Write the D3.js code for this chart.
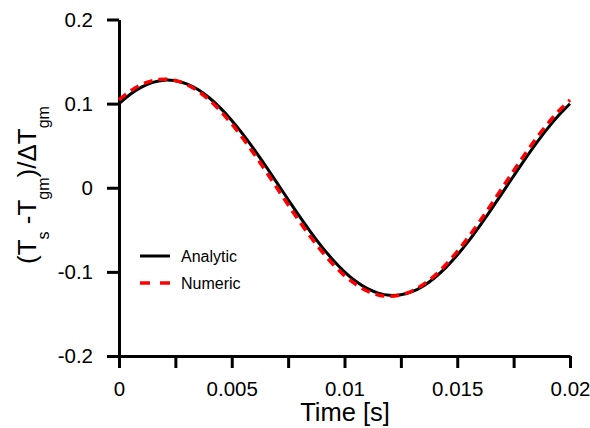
<!DOCTYPE html>
<html>
<head>
<meta charset="utf-8">
<script src="https://cdn.jsdelivr.net/npm/d3@7"></script>
<style>
  body { margin: 0; background: #fff; }
  text { font-family: "Liberation Sans", Arial, sans-serif; fill: #000; }
</style>
</head>
<body>
<div id="chart"></div>
<script>
// time samples [s]
const times = [
  0, 0.0005, 0.001, 0.0015, 0.002, 0.0025, 0.003, 0.0035, 0.004, 0.0045,
  0.005, 0.0055, 0.006, 0.0065, 0.007, 0.0075, 0.008, 0.0085, 0.009, 0.0095,
  0.01, 0.0105, 0.011, 0.0115, 0.012, 0.0125, 0.013, 0.0135, 0.014, 0.0145,
  0.015, 0.0155, 0.016, 0.0165, 0.017, 0.0175, 0.018, 0.0185, 0.019, 0.0195, 0.02
];

const analytic = [
  0.0999, 0.1112, 0.1197, 0.1253, 0.1279, 0.1272, 0.1235, 0.1167, 0.1070, 0.0947,
  0.0800, 0.0634, 0.0452, 0.0260, 0.0060, -0.0140, -0.0338, -0.0527, -0.0703, -0.0861,
  -0.0999, -0.1112, -0.1197, -0.1253, -0.1279, -0.1272, -0.1235, -0.1167, -0.1070, -0.0947,
  -0.0800, -0.0634, -0.0452, -0.0260, -0.0060, 0.0140, 0.0338, 0.0527, 0.0703, 0.0861, 0.0999
];

const numeric = [
  0.1044, 0.1149, 0.1227, 0.1274, 0.1290, 0.1274, 0.1227, 0.1149, 0.1044, 0.0912,
  0.0758, 0.0586, 0.0399, 0.0202, 0.0000, -0.0202, -0.0399, -0.0586, -0.0758, -0.0912,
  -0.1044, -0.1149, -0.1227, -0.1274, -0.1290, -0.1274, -0.1227, -0.1149, -0.1044, -0.0912,
  -0.0758, -0.0586, -0.0399, -0.0202, 0.0000, 0.0202, 0.0399, 0.0586, 0.0758, 0.0912, 0.1044
];

const xTicks = [0, 0.0025, 0.005, 0.0075, 0.01, 0.0125, 0.015, 0.0175, 0.02];
const xTickLabels = ['0', '', '0.005', '', '0.01', '', '0.015', '', '0.02'];
const yTicks = [-0.2, -0.1, 0, 0.1, 0.2];
const yTickLabels = ['-0.2', '-0.1', '0', '0.1', '0.2'];

const seriesNames = ['Analytic', 'Numeric'];

const width = 590;
const height = 428;

const svg = d3
  .select('#chart')
  .append('svg')
  .attr('width', width)
  .attr('height', height);

const xScale = d3.scaleLinear().domain([0, 0.02]).range([119, 570]);
const yScale = d3.scaleLinear().domain([-0.2, 0.2]).range([356, 19.5]);

// axes
const xAxis = svg
  .append('g')
  .attr('transform', `translate(0,${yScale(-0.2)})`)
  .call(
    d3
      .axisBottom(xScale)
      .tickValues(xTicks)
      .tickSize(12)
      .tickSizeOuter(0)
      .tickPadding(13)
      .tickFormat((d, i) => xTickLabels[i])
  );

const yAxis = svg
  .append('g')
  .attr('transform', `translate(${xScale(0)},0)`)
  .call(
    d3
      .axisLeft(yScale)
      .tickValues(yTicks)
      .tickSize(12)
      .tickSizeOuter(0)
      .tickPadding(14)
      .tickFormat((d, i) => yTickLabels[i])
  );

[xAxis, yAxis].forEach((ax) => {
  ax.select('.domain').attr('stroke', '#000').attr('stroke-width', 3);
  ax.selectAll('.tick line').attr('stroke', '#000').attr('stroke-width', 3);
  ax.selectAll('.tick text')
    .style('font-size', '20.5px')
    .style('font-family', '"Liberation Sans", Arial, sans-serif')
    .attr('fill', '#000');
});

// curves
const line = d3
  .line()
  .x((d) => xScale(d[0]))
  .y((d) => yScale(d[1]))
  .curve(d3.curveCatmullRom);

svg
  .append('path')
  .datum(times.map((t, i) => [t, analytic[i]]))
  .attr('fill', 'none')
  .attr('stroke', '#000')
  .attr('stroke-width', 3)
  .attr('d', line);

svg
  .append('path')
  .datum(times.map((t, i) => [t, numeric[i]]))
  .attr('fill', 'none')
  .attr('stroke', '#ff0000')
  .attr('stroke-width', 3.5)
  .attr('stroke-dasharray', '9,6')
  .attr('d', line);

// legend
const legend = svg
  .selectAll('.legend')
  .data(seriesNames)
  .enter()
  .append('g')
  .attr('class', 'legend')
  .attr('transform', (d, i) => `translate(140,${256 + i * 27})`);

legend
  .append('line')
  .attr('x1', 0)
  .attr('x2', 30)
  .attr('y1', 0)
  .attr('y2', 0)
  .attr('stroke', (d, i) => (i === 0 ? '#000' : '#ff0000'))
  .attr('stroke-width', (d, i) => (i === 0 ? 3 : 3.5))
  .attr('stroke-dasharray', (d, i) => (i === 0 ? null : '10,10'));

legend
  .append('text')
  .attr('x', 41)
  .attr('y', 0)
  .attr('dy', '0.35em')
  .style('font-size', '16px')
  .text((d) => d);

// axis titles
svg
  .append('text')
  .attr('x', 345)
  .attr('y', 421)
  .style('text-anchor', 'middle')
  .style('font-size', '25.5px')
  .text('Time [s]');

const yTitle = svg
  .append('text')
  .attr('transform', 'translate(36,185) rotate(-90)')
  .style('text-anchor', 'middle')
  .style('font-size', '26px');

yTitle.append('tspan').text('(T');
yTitle.append('tspan').attr('dy', 13).style('font-size', '16px').text('s');
yTitle.append('tspan').attr('dy', -13).text(' -T');
yTitle.append('tspan').attr('dy', 13).style('font-size', '16px').text('gm');
yTitle.append('tspan').attr('dy', -13).text(')/\u0394T');
yTitle.append('tspan').attr('dy', 13).style('font-size', '16px').text('gm');
</script>
</body>
</html>
